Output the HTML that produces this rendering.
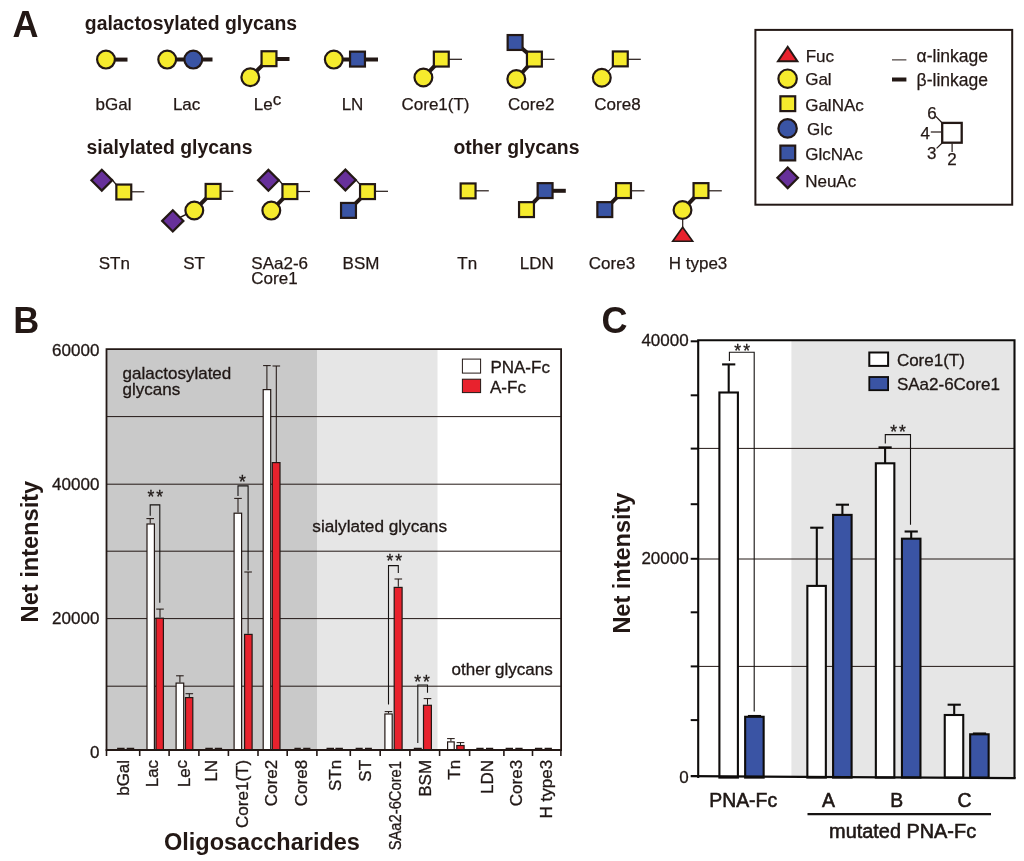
<!DOCTYPE html>
<html><head><meta charset="utf-8"><title>Figure</title>
<style>html,body{margin:0;padding:0;background:#fff}svg{display:block;opacity:0.9999;will-change:transform}text{font-family:"Liberation Sans",sans-serif;fill:#231815}</style>
</head><body>
<svg width="1024" height="861" viewBox="0 0 1024 861">
<defs><filter id="soft" x="0" y="0" width="100%" height="100%" filterUnits="userSpaceOnUse" color-interpolation-filters="sRGB"><feGaussianBlur stdDeviation="0.35"/></filter></defs>
<rect width="1024" height="861" fill="#fff"/>
<g filter="url(#soft)">
<rect width="1024" height="861" fill="#fff"/>
<text x="12.6" y="37.3" font-size="36" font-weight="bold" text-anchor="start" fill="#0a0a0a">A</text>
<text x="84.8" y="30.2" font-size="19.4" font-weight="bold" text-anchor="start" fill="#100e0d">galactosylated glycans</text>
<text x="86.5" y="154" font-size="19.4" font-weight="bold" text-anchor="start" fill="#100e0d">sialylated glycans</text>
<text x="453.4" y="154" font-size="19.4" font-weight="bold" text-anchor="start" fill="#100e0d">other glycans</text>
<line x1="110" y1="59.6" x2="127.5" y2="59.6" stroke="#231815" stroke-width="4.0" stroke-linecap="butt"/>
<circle cx="106" cy="59.6" r="8.9" fill="#f6eb2d" stroke="#231815" stroke-width="2.2"/>
<line x1="170" y1="59.6" x2="212.5" y2="59.6" stroke="#231815" stroke-width="4.0" stroke-linecap="butt"/>
<circle cx="167.2" cy="59.6" r="8.9" fill="#f6eb2d" stroke="#231815" stroke-width="2.2"/>
<circle cx="193.3" cy="59.6" r="8.9" fill="#3a54a4" stroke="#231815" stroke-width="2.2"/>
<line x1="250.3" y1="77.3" x2="269" y2="58.7" stroke="#231815" stroke-width="4.0" stroke-linecap="butt"/>
<line x1="269" y1="59" x2="289.5" y2="59" stroke="#231815" stroke-width="4.0" stroke-linecap="butt"/>
<circle cx="250.3" cy="77.3" r="8.9" fill="#f6eb2d" stroke="#231815" stroke-width="2.2"/>
<rect x="261.55" y="51.25" width="14.9" height="14.9" fill="#f6eb2d" stroke="#231815" stroke-width="2.2"/>
<line x1="336" y1="59.6" x2="378" y2="59.6" stroke="#231815" stroke-width="4.0" stroke-linecap="butt"/>
<circle cx="333.8" cy="59.6" r="8.9" fill="#f6eb2d" stroke="#231815" stroke-width="2.2"/>
<rect x="350.05" y="51.65" width="14.9" height="14.9" fill="#3a54a4" stroke="#231815" stroke-width="2.2"/>
<line x1="423.4" y1="77.5" x2="441.3" y2="59.1" stroke="#231815" stroke-width="4.0" stroke-linecap="butt"/>
<line x1="441.3" y1="59.3" x2="462" y2="59.3" stroke="#231815" stroke-width="1.2" stroke-linecap="butt"/>
<circle cx="423.4" cy="77.5" r="8.9" fill="#f6eb2d" stroke="#231815" stroke-width="2.2"/>
<rect x="433.85" y="51.65" width="14.9" height="14.9" fill="#f6eb2d" stroke="#231815" stroke-width="2.2"/>
<line x1="515.1" y1="42.5" x2="534.4" y2="59.1" stroke="#231815" stroke-width="4.0" stroke-linecap="butt"/>
<line x1="516.3" y1="79" x2="534.4" y2="59.1" stroke="#231815" stroke-width="4.0" stroke-linecap="butt"/>
<line x1="534.4" y1="59.3" x2="554.5" y2="59.3" stroke="#231815" stroke-width="1.2" stroke-linecap="butt"/>
<rect x="507.65" y="35.05" width="14.9" height="14.9" fill="#3a54a4" stroke="#231815" stroke-width="2.2"/>
<circle cx="516.3" cy="79" r="8.9" fill="#f6eb2d" stroke="#231815" stroke-width="2.2"/>
<rect x="526.95" y="51.65" width="14.9" height="14.9" fill="#f6eb2d" stroke="#231815" stroke-width="2.2"/>
<line x1="601.8" y1="77.8" x2="620.3" y2="58.9" stroke="#231815" stroke-width="1.2" stroke-linecap="butt"/>
<line x1="620.3" y1="59.3" x2="640.8" y2="59.3" stroke="#231815" stroke-width="1.2" stroke-linecap="butt"/>
<circle cx="601.8" cy="77.8" r="8.9" fill="#f6eb2d" stroke="#231815" stroke-width="2.2"/>
<rect x="612.85" y="51.45" width="14.9" height="14.9" fill="#f6eb2d" stroke="#231815" stroke-width="2.2"/>
<text x="113.5" y="109.8" font-size="17" font-weight="normal" text-anchor="middle" stroke="#231815" stroke-width="0.25">bGal</text>
<text x="186.6" y="109.8" font-size="17" font-weight="normal" text-anchor="middle" stroke="#231815" stroke-width="0.25">Lac</text>
<text x="253.8" y="109.8" font-size="17" font-weight="normal" text-anchor="start" stroke="#231815" stroke-width="0.25">Le<tspan dy="-4.5" font-size="17">c</tspan></text>
<text x="352.5" y="109.8" font-size="17" font-weight="normal" text-anchor="middle" stroke="#231815" stroke-width="0.25">LN</text>
<text x="435.5" y="109.8" font-size="17" font-weight="normal" text-anchor="middle" stroke="#231815" stroke-width="0.25">Core1(T)</text>
<text x="531.2" y="109.8" font-size="17" font-weight="normal" text-anchor="middle" stroke="#231815" stroke-width="0.25">Core2</text>
<text x="617.5" y="109.8" font-size="17" font-weight="normal" text-anchor="middle" stroke="#231815" stroke-width="0.25">Core8</text>
<line x1="124" y1="191.8" x2="144.3" y2="191.8" stroke="#231815" stroke-width="1.2" stroke-linecap="butt"/>
<line x1="111.5" y1="179" x2="117" y2="185.5" stroke="#231815" stroke-width="1.2" stroke-linecap="butt"/>
<path d="M91.4 180.2L101.8 169.8L112.2 180.2L101.8 190.6Z" fill="#67309a" stroke="#231815" stroke-width="2.2" stroke-linejoin="miter"/>
<rect x="116.35" y="184.55" width="14.9" height="14.9" fill="#f6eb2d" stroke="#231815" stroke-width="2.2"/>
<line x1="172.8" y1="220.9" x2="194.3" y2="210.5" stroke="#231815" stroke-width="1.4" stroke-linecap="butt"/>
<line x1="194.3" y1="210.5" x2="213.1" y2="191.4" stroke="#231815" stroke-width="4.0" stroke-linecap="butt"/>
<line x1="213.1" y1="191.3" x2="233.3" y2="191.3" stroke="#231815" stroke-width="1.2" stroke-linecap="butt"/>
<path d="M162.2 220.9L172.8 210.3L183.4 220.9L172.8 231.5Z" fill="#67309a" stroke="#231815" stroke-width="2.2" stroke-linejoin="miter"/>
<circle cx="194.3" cy="210.5" r="8.9" fill="#f6eb2d" stroke="#231815" stroke-width="2.2"/>
<rect x="205.65" y="183.95" width="14.9" height="14.9" fill="#f6eb2d" stroke="#231815" stroke-width="2.2"/>
<line x1="271.3" y1="210.6" x2="289.9" y2="191.6" stroke="#231815" stroke-width="4.0" stroke-linecap="butt"/>
<line x1="289.9" y1="191.5" x2="310" y2="191.5" stroke="#231815" stroke-width="1.2" stroke-linecap="butt"/>
<line x1="278" y1="179" x2="283.5" y2="185.5" stroke="#231815" stroke-width="1.2" stroke-linecap="butt"/>
<path d="M258 180.3L268.4 169.9L278.8 180.3L268.4 190.7Z" fill="#67309a" stroke="#231815" stroke-width="2.2" stroke-linejoin="miter"/>
<circle cx="271.3" cy="210.6" r="8.9" fill="#f6eb2d" stroke="#231815" stroke-width="2.2"/>
<rect x="282.45" y="184.15" width="14.9" height="14.9" fill="#f6eb2d" stroke="#231815" stroke-width="2.2"/>
<line x1="348.5" y1="210.4" x2="367.5" y2="191.6" stroke="#231815" stroke-width="4.0" stroke-linecap="butt"/>
<line x1="367.5" y1="191.3" x2="388" y2="191.3" stroke="#231815" stroke-width="1.2" stroke-linecap="butt"/>
<line x1="355" y1="178.8" x2="361" y2="185.5" stroke="#231815" stroke-width="1.2" stroke-linecap="butt"/>
<path d="M335 180L345.4 169.6L355.8 180L345.4 190.4Z" fill="#67309a" stroke="#231815" stroke-width="2.2" stroke-linejoin="miter"/>
<rect x="341.05" y="202.95" width="14.9" height="14.9" fill="#3a54a4" stroke="#231815" stroke-width="2.2"/>
<rect x="360.05" y="184.15" width="14.9" height="14.9" fill="#f6eb2d" stroke="#231815" stroke-width="2.2"/>
<line x1="468.1" y1="190.8" x2="488.8" y2="190.8" stroke="#231815" stroke-width="1.2" stroke-linecap="butt"/>
<rect x="460.65" y="183.45" width="14.9" height="14.9" fill="#f6eb2d" stroke="#231815" stroke-width="2.2"/>
<line x1="526.5" y1="209.6" x2="545.1" y2="190.6" stroke="#231815" stroke-width="4.0" stroke-linecap="butt"/>
<line x1="545.1" y1="190.8" x2="565.8" y2="190.8" stroke="#231815" stroke-width="4.0" stroke-linecap="butt"/>
<rect x="519.05" y="202.15" width="14.9" height="14.9" fill="#f6eb2d" stroke="#231815" stroke-width="2.2"/>
<rect x="537.65" y="183.15" width="14.9" height="14.9" fill="#3a54a4" stroke="#231815" stroke-width="2.2"/>
<line x1="604.8" y1="209.6" x2="623.5" y2="190.6" stroke="#231815" stroke-width="4.0" stroke-linecap="butt"/>
<line x1="623.5" y1="190.8" x2="644.5" y2="190.8" stroke="#231815" stroke-width="1.2" stroke-linecap="butt"/>
<rect x="597.35" y="202.15" width="14.9" height="14.9" fill="#3a54a4" stroke="#231815" stroke-width="2.2"/>
<rect x="616.05" y="183.15" width="14.9" height="14.9" fill="#f6eb2d" stroke="#231815" stroke-width="2.2"/>
<line x1="682.5" y1="210" x2="701" y2="190.6" stroke="#231815" stroke-width="4.0" stroke-linecap="butt"/>
<line x1="701" y1="190.8" x2="721.8" y2="190.8" stroke="#231815" stroke-width="1.2" stroke-linecap="butt"/>
<line x1="682.7" y1="218" x2="682.7" y2="228" stroke="#231815" stroke-width="1.2" stroke-linecap="butt"/>
<circle cx="682.5" cy="210" r="8.9" fill="#f6eb2d" stroke="#231815" stroke-width="2.2"/>
<rect x="693.55" y="183.15" width="14.9" height="14.9" fill="#f6eb2d" stroke="#231815" stroke-width="2.2"/>
<path d="M682.7 227.2L692.7 241.3L672.7 241.3Z" fill="#e8222d" stroke="#231815" stroke-width="1.6" stroke-linejoin="miter"/>
<text x="114.3" y="268.5" font-size="17" font-weight="normal" text-anchor="middle" stroke="#231815" stroke-width="0.25">STn</text>
<text x="194" y="268.5" font-size="17" font-weight="normal" text-anchor="middle" stroke="#231815" stroke-width="0.25">ST</text>
<text x="251.3" y="268.5" font-size="17" font-weight="normal" text-anchor="start" stroke="#231815" stroke-width="0.25">SAa2-6</text>
<text x="251.3" y="284.2" font-size="17" font-weight="normal" text-anchor="start" stroke="#231815" stroke-width="0.25">Core1</text>
<text x="361" y="268.5" font-size="17" font-weight="normal" text-anchor="middle" stroke="#231815" stroke-width="0.25">BSM</text>
<text x="467.2" y="268.5" font-size="17" font-weight="normal" text-anchor="middle" stroke="#231815" stroke-width="0.25">Tn</text>
<text x="536.8" y="268.5" font-size="17" font-weight="normal" text-anchor="middle" stroke="#231815" stroke-width="0.25">LDN</text>
<text x="612" y="268.5" font-size="17" font-weight="normal" text-anchor="middle" stroke="#231815" stroke-width="0.25">Core3</text>
<text x="698" y="268.5" font-size="17" font-weight="normal" text-anchor="middle" stroke="#231815" stroke-width="0.25">H type3</text>
<rect x="755.4" y="29.9" width="256.8" height="174.8" fill="#fff" stroke="#231815" stroke-width="2"/>
<path d="M787.7 46.8L797.4 61.3L778 61.3Z" fill="#e8222d" stroke="#231815" stroke-width="2.0" stroke-linejoin="miter"/>
<circle cx="787.6" cy="78.7" r="9.2" fill="#f6eb2d" stroke="#231815" stroke-width="2.2"/>
<rect x="780.4" y="96.3" width="14.8" height="14.8" fill="#f6eb2d" stroke="#231815" stroke-width="2.2"/>
<circle cx="787.6" cy="128.4" r="9.2" fill="#3a54a4" stroke="#231815" stroke-width="2.2"/>
<rect x="780.4" y="145.6" width="14.8" height="14.8" fill="#3a54a4" stroke="#231815" stroke-width="2.2"/>
<path d="M777.4 177.8L787.7 167.5L798 177.8L787.7 188.1Z" fill="#67309a" stroke="#231815" stroke-width="2.2" stroke-linejoin="miter"/>
<text x="805.7" y="62.1" font-size="17" font-weight="normal" text-anchor="start" stroke="#231815" stroke-width="0.25">Fuc</text>
<text x="805.2" y="84.9" font-size="17" font-weight="normal" text-anchor="start" stroke="#231815" stroke-width="0.25">Gal</text>
<text x="805.2" y="110.7" font-size="17" font-weight="normal" text-anchor="start" stroke="#231815" stroke-width="0.25">GalNAc</text>
<text x="807" y="135.3" font-size="17" font-weight="normal" text-anchor="start" stroke="#231815" stroke-width="0.25">Glc</text>
<text x="805.2" y="159.7" font-size="17" font-weight="normal" text-anchor="start" stroke="#231815" stroke-width="0.25">GlcNAc</text>
<text x="805.2" y="186.6" font-size="17" font-weight="normal" text-anchor="start" stroke="#231815" stroke-width="0.25">NeuAc</text>
<line x1="892" y1="59.9" x2="906.4" y2="59.9" stroke="#231815" stroke-width="1" stroke-linecap="butt"/>
<line x1="892" y1="79.5" x2="906.4" y2="79.5" stroke="#231815" stroke-width="4" stroke-linecap="butt"/>
<text x="916.6" y="62.1" font-size="17.5" font-weight="normal" text-anchor="start" stroke="#231815" stroke-width="0.25">α-linkage</text>
<text x="916.6" y="86.3" font-size="17.5" font-weight="normal" text-anchor="start" stroke="#231815" stroke-width="0.25">β-linkage</text>
<rect x="942.2" y="122.9" width="19.5" height="19.8" fill="#fff" stroke="#231815" stroke-width="2.3"/>
<line x1="935.6" y1="116.2" x2="942.2" y2="123" stroke="#231815" stroke-width="1.2" stroke-linecap="butt"/>
<line x1="930.8" y1="132" x2="941" y2="132" stroke="#231815" stroke-width="1.2" stroke-linecap="butt"/>
<line x1="936.6" y1="148.4" x2="942.4" y2="142.8" stroke="#231815" stroke-width="1.2" stroke-linecap="butt"/>
<line x1="952.1" y1="143.6" x2="952.1" y2="152" stroke="#231815" stroke-width="1.2" stroke-linecap="butt"/>
<text x="927.3" y="118.8" font-size="17" font-weight="normal" text-anchor="start" stroke="#231815" stroke-width="0.25">6</text>
<text x="920.6" y="139" font-size="17" font-weight="normal" text-anchor="start" stroke="#231815" stroke-width="0.25">4</text>
<text x="927" y="159.2" font-size="17" font-weight="normal" text-anchor="start" stroke="#231815" stroke-width="0.25">3</text>
<text x="947.2" y="164.7" font-size="17" font-weight="normal" text-anchor="start" stroke="#231815" stroke-width="0.25">2</text>
<text x="13.3" y="332.5" font-size="36" font-weight="bold" text-anchor="start" fill="#0a0a0a">B</text>
<rect x="106.5" y="349.2" width="210.5" height="400.4" fill="#c9c9c9"/>
<rect x="317" y="349.2" width="120.5" height="400.4" fill="#e6e6e6"/>
<line x1="106.5" y1="416.6" x2="561.1" y2="416.6" stroke="#231815" stroke-width="1.0" stroke-linecap="butt"/>
<line x1="106.5" y1="484.2" x2="561.1" y2="484.2" stroke="#231815" stroke-width="1.0" stroke-linecap="butt"/>
<line x1="106.5" y1="551.2" x2="561.1" y2="551.2" stroke="#231815" stroke-width="1.0" stroke-linecap="butt"/>
<line x1="106.5" y1="618.6" x2="561.1" y2="618.6" stroke="#231815" stroke-width="1.0" stroke-linecap="butt"/>
<line x1="106.5" y1="686.2" x2="561.1" y2="686.2" stroke="#231815" stroke-width="1.0" stroke-linecap="butt"/>
<line x1="117.1" y1="748.5" x2="124.6" y2="748.5" stroke="#231815" stroke-width="1.5" stroke-linecap="butt"/>
<line x1="126.7" y1="748.5" x2="134.2" y2="748.5" stroke="#231815" stroke-width="1.5" stroke-linecap="butt"/>
<line x1="205.3" y1="748.5" x2="212.8" y2="748.5" stroke="#231815" stroke-width="1.5" stroke-linecap="butt"/>
<line x1="214.8" y1="748.5" x2="222.1" y2="748.5" stroke="#231815" stroke-width="1.5" stroke-linecap="butt"/>
<line x1="294.4" y1="748.5" x2="300.8" y2="748.5" stroke="#231815" stroke-width="1.5" stroke-linecap="butt"/>
<line x1="303.2" y1="748.5" x2="310.4" y2="748.5" stroke="#231815" stroke-width="1.5" stroke-linecap="butt"/>
<line x1="326.5" y1="748.5" x2="334" y2="748.5" stroke="#231815" stroke-width="1.5" stroke-linecap="butt"/>
<line x1="335.4" y1="748.5" x2="342.9" y2="748.5" stroke="#231815" stroke-width="1.5" stroke-linecap="butt"/>
<line x1="355.6" y1="748.5" x2="362.7" y2="748.5" stroke="#231815" stroke-width="1.5" stroke-linecap="butt"/>
<line x1="365" y1="748.5" x2="371.9" y2="748.5" stroke="#231815" stroke-width="1.5" stroke-linecap="butt"/>
<line x1="413.8" y1="748.5" x2="421.8" y2="748.5" stroke="#231815" stroke-width="1.5" stroke-linecap="butt"/>
<line x1="476.3" y1="748.5" x2="483.6" y2="748.5" stroke="#231815" stroke-width="1.5" stroke-linecap="butt"/>
<line x1="486" y1="748.5" x2="493.2" y2="748.5" stroke="#231815" stroke-width="1.5" stroke-linecap="butt"/>
<line x1="505.6" y1="748.5" x2="513" y2="748.5" stroke="#231815" stroke-width="1.5" stroke-linecap="butt"/>
<line x1="515.3" y1="748.5" x2="522.6" y2="748.5" stroke="#231815" stroke-width="1.5" stroke-linecap="butt"/>
<line x1="534.9" y1="748.5" x2="542.3" y2="748.5" stroke="#231815" stroke-width="1.5" stroke-linecap="butt"/>
<line x1="544.6" y1="748.5" x2="551.9" y2="748.5" stroke="#231815" stroke-width="1.5" stroke-linecap="butt"/>
<line x1="150.2" y1="523.4" x2="150.2" y2="518.6" stroke="#231815" stroke-width="1.05" stroke-linecap="butt"/>
<line x1="146.4" y1="518.6" x2="154" y2="518.6" stroke="#231815" stroke-width="1.05" stroke-linecap="butt"/>
<rect x="147" y="524" width="7.4" height="225.6" fill="#fff" stroke="#231815" stroke-width="1.2"/>
<line x1="160" y1="617.6" x2="160" y2="609.1" stroke="#231815" stroke-width="1.05" stroke-linecap="butt"/>
<line x1="156.2" y1="609.1" x2="163.8" y2="609.1" stroke="#231815" stroke-width="1.05" stroke-linecap="butt"/>
<rect x="156" y="618.2" width="7.4" height="131.4" fill="#e8222d" stroke="#231815" stroke-width="1.2"/>
<line x1="179.9" y1="682.5" x2="179.9" y2="675.8" stroke="#231815" stroke-width="1.05" stroke-linecap="butt"/>
<line x1="176.1" y1="675.8" x2="183.7" y2="675.8" stroke="#231815" stroke-width="1.05" stroke-linecap="butt"/>
<rect x="176.1" y="683.1" width="7.6" height="66.5" fill="#fff" stroke="#231815" stroke-width="1.2"/>
<line x1="189.3" y1="697" x2="189.3" y2="693.7" stroke="#231815" stroke-width="1.05" stroke-linecap="butt"/>
<line x1="185.5" y1="693.7" x2="193.1" y2="693.7" stroke="#231815" stroke-width="1.05" stroke-linecap="butt"/>
<rect x="185.5" y="697.6" width="7.3" height="52" fill="#e8222d" stroke="#231815" stroke-width="1.2"/>
<line x1="238" y1="512.6" x2="238" y2="498.4" stroke="#231815" stroke-width="1.05" stroke-linecap="butt"/>
<line x1="234.2" y1="498.4" x2="241.8" y2="498.4" stroke="#231815" stroke-width="1.05" stroke-linecap="butt"/>
<rect x="234.1" y="513.2" width="7.5" height="236.4" fill="#fff" stroke="#231815" stroke-width="1.2"/>
<line x1="248.1" y1="633.8" x2="248.1" y2="572" stroke="#231815" stroke-width="1.05" stroke-linecap="butt"/>
<line x1="244.3" y1="572" x2="251.9" y2="572" stroke="#231815" stroke-width="1.05" stroke-linecap="butt"/>
<rect x="244.6" y="634.4" width="7.5" height="115.2" fill="#e8222d" stroke="#231815" stroke-width="1.2"/>
<line x1="266.9" y1="389" x2="266.9" y2="365.6" stroke="#231815" stroke-width="1.05" stroke-linecap="butt"/>
<line x1="263.1" y1="365.6" x2="270.7" y2="365.6" stroke="#231815" stroke-width="1.05" stroke-linecap="butt"/>
<rect x="263.2" y="389.6" width="7.5" height="360" fill="#fff" stroke="#231815" stroke-width="1.2"/>
<line x1="276.3" y1="462" x2="276.3" y2="366" stroke="#231815" stroke-width="1.05" stroke-linecap="butt"/>
<line x1="272.5" y1="366" x2="280.1" y2="366" stroke="#231815" stroke-width="1.05" stroke-linecap="butt"/>
<rect x="272.3" y="462.6" width="7.7" height="287" fill="#e8222d" stroke="#231815" stroke-width="1.2"/>
<line x1="388.5" y1="713.4" x2="388.5" y2="711.6" stroke="#231815" stroke-width="1.05" stroke-linecap="butt"/>
<line x1="384.7" y1="711.6" x2="392.3" y2="711.6" stroke="#231815" stroke-width="1.05" stroke-linecap="butt"/>
<rect x="384.9" y="714" width="7.3" height="35.6" fill="#fff" stroke="#231815" stroke-width="1.2"/>
<line x1="398.3" y1="586.8" x2="398.3" y2="579" stroke="#231815" stroke-width="1.05" stroke-linecap="butt"/>
<line x1="394.5" y1="579" x2="402.1" y2="579" stroke="#231815" stroke-width="1.05" stroke-linecap="butt"/>
<rect x="394.2" y="587.4" width="7.9" height="162.2" fill="#e8222d" stroke="#231815" stroke-width="1.2"/>
<line x1="427.5" y1="704.7" x2="427.5" y2="698.6" stroke="#231815" stroke-width="1.05" stroke-linecap="butt"/>
<line x1="423.7" y1="698.6" x2="431.3" y2="698.6" stroke="#231815" stroke-width="1.05" stroke-linecap="butt"/>
<rect x="423.5" y="705.3" width="7.9" height="44.3" fill="#e8222d" stroke="#231815" stroke-width="1.2"/>
<line x1="450.9" y1="741.3" x2="450.9" y2="738.6" stroke="#231815" stroke-width="1.05" stroke-linecap="butt"/>
<line x1="447.1" y1="738.6" x2="454.7" y2="738.6" stroke="#231815" stroke-width="1.05" stroke-linecap="butt"/>
<rect x="447.6" y="741.9" width="6.6" height="7.7" fill="#fff" stroke="#231815" stroke-width="1.2"/>
<line x1="460.5" y1="744.9" x2="460.5" y2="742.6" stroke="#231815" stroke-width="1.05" stroke-linecap="butt"/>
<line x1="456.7" y1="742.6" x2="464.3" y2="742.6" stroke="#231815" stroke-width="1.05" stroke-linecap="butt"/>
<rect x="456.8" y="745.5" width="7.3" height="4.1" fill="#e8222d" stroke="#231815" stroke-width="1.2"/>
<path d="M150.2 515.8V504.9H159.8V602.8" fill="none" stroke="#151211" stroke-width="1.1"/>
<path d="M238 496V485.9H248.1V570.5" fill="none" stroke="#151211" stroke-width="1.1"/>
<path d="M388.5 704.5V565.6H398.3V573" fill="none" stroke="#151211" stroke-width="1.1"/>
<path d="M417.8 743V685H427.5V692.8" fill="none" stroke="#151211" stroke-width="1.1"/>
<text x="147.44" y="502.77" font-size="17.5" letter-spacing="2.1" fill="#111" stroke="#111" stroke-width="0.3">**</text>
<text x="238.9" y="487.87" font-size="17.5" letter-spacing="2.1" fill="#111" stroke="#111" stroke-width="0.3">*</text>
<text x="386.39" y="566.82" font-size="17.5" letter-spacing="2.1" fill="#111" stroke="#111" stroke-width="0.3">**</text>
<text x="414.14" y="688.32" font-size="17.5" letter-spacing="2.1" fill="#111" stroke="#111" stroke-width="0.3">**</text>
<path d="M106.5 749.6V349.2H561.1V749.6" fill="none" stroke="#231815" stroke-width="1.8"/>
<line x1="105.6" y1="750" x2="562" y2="750" stroke="#231815" stroke-width="2.2" stroke-linecap="butt"/>
<line x1="106.5" y1="749.6" x2="106.5" y2="756" stroke="#231815" stroke-width="1.6" stroke-linecap="butt"/>
<line x1="139.7" y1="749.6" x2="139.7" y2="756" stroke="#231815" stroke-width="1.6" stroke-linecap="butt"/>
<line x1="169.1" y1="749.6" x2="169.1" y2="756" stroke="#231815" stroke-width="1.6" stroke-linecap="butt"/>
<line x1="198.9" y1="749.6" x2="198.9" y2="756" stroke="#231815" stroke-width="1.6" stroke-linecap="butt"/>
<line x1="228.4" y1="749.6" x2="228.4" y2="756" stroke="#231815" stroke-width="1.6" stroke-linecap="butt"/>
<line x1="258" y1="749.6" x2="258" y2="756" stroke="#231815" stroke-width="1.6" stroke-linecap="butt"/>
<line x1="287.2" y1="749.6" x2="287.2" y2="756" stroke="#231815" stroke-width="1.6" stroke-linecap="butt"/>
<line x1="316.9" y1="749.6" x2="316.9" y2="756" stroke="#231815" stroke-width="1.6" stroke-linecap="butt"/>
<line x1="350.3" y1="749.6" x2="350.3" y2="756" stroke="#231815" stroke-width="1.6" stroke-linecap="butt"/>
<line x1="380.2" y1="749.6" x2="380.2" y2="756" stroke="#231815" stroke-width="1.6" stroke-linecap="butt"/>
<line x1="409.9" y1="749.6" x2="409.9" y2="756" stroke="#231815" stroke-width="1.6" stroke-linecap="butt"/>
<line x1="439.6" y1="749.6" x2="439.6" y2="756" stroke="#231815" stroke-width="1.6" stroke-linecap="butt"/>
<line x1="469.6" y1="749.6" x2="469.6" y2="756" stroke="#231815" stroke-width="1.6" stroke-linecap="butt"/>
<line x1="503.9" y1="749.6" x2="503.9" y2="756" stroke="#231815" stroke-width="1.6" stroke-linecap="butt"/>
<line x1="532.5" y1="749.6" x2="532.5" y2="756" stroke="#231815" stroke-width="1.6" stroke-linecap="butt"/>
<line x1="560.9" y1="749.6" x2="560.9" y2="756" stroke="#231815" stroke-width="1.6" stroke-linecap="butt"/>
<text x="99.4" y="356" font-size="17.0" font-weight="normal" text-anchor="end" fill="#161312" stroke="#161312" stroke-width="0.3">60000</text>
<text x="99.4" y="490.1" font-size="17.0" font-weight="normal" text-anchor="end" fill="#161312" stroke="#161312" stroke-width="0.3">40000</text>
<text x="99.4" y="623.6" font-size="17.0" font-weight="normal" text-anchor="end" fill="#161312" stroke="#161312" stroke-width="0.3">20000</text>
<text x="99.4" y="757.6" font-size="17.0" font-weight="normal" text-anchor="end" fill="#161312" stroke="#161312" stroke-width="0.3">0</text>
<text x="122.6" y="378.7" font-size="17" font-weight="normal" text-anchor="start" fill="#161312" stroke="#161312" stroke-width="0.3">galactosylated</text>
<text x="122.6" y="394.8" font-size="17" font-weight="normal" text-anchor="start" fill="#161312" stroke="#161312" stroke-width="0.3">glycans</text>
<text x="312.3" y="532.1" font-size="17.2" font-weight="normal" text-anchor="start" fill="#161312" stroke="#161312" stroke-width="0.3">sialylated glycans</text>
<text x="451.6" y="674.8" font-size="17" font-weight="normal" text-anchor="start" fill="#161312" stroke="#161312" stroke-width="0.3">other glycans</text>
<rect x="462.4" y="359.1" width="18.2" height="14" fill="#fff" stroke="#231815" stroke-width="1"/>
<rect x="462.4" y="379.2" width="18.2" height="13.4" fill="#e8222d" stroke="#231815" stroke-width="1"/>
<text x="490.4" y="372.8" font-size="17" font-weight="normal" text-anchor="start" fill="#161312" stroke="#161312" stroke-width="0.3">PNA-Fc</text>
<text x="490" y="392.5" font-size="17" font-weight="normal" text-anchor="start" fill="#161312" stroke="#161312" stroke-width="0.3">A-Fc</text>
<text transform="translate(129.3 759.9) rotate(-90)" font-size="17" font-weight="normal" text-anchor="end" fill="#161312" stroke="#161312" stroke-width="0.3">bGal</text>
<text transform="translate(158.1 759.9) rotate(-90)" font-size="17" font-weight="normal" text-anchor="end" fill="#161312" stroke="#161312" stroke-width="0.3">Lac</text>
<text transform="translate(217.2 759.9) rotate(-90)" font-size="17" font-weight="normal" text-anchor="end" fill="#161312" stroke="#161312" stroke-width="0.3">LN</text>
<text transform="translate(247.6 759.9) rotate(-90)" font-size="17" font-weight="normal" text-anchor="end" fill="#161312" stroke="#161312" stroke-width="0.3">Core1(T)</text>
<text transform="translate(276.9 759.9) rotate(-90)" font-size="17" font-weight="normal" text-anchor="end" fill="#161312" stroke="#161312" stroke-width="0.3">Core2</text>
<text transform="translate(307.4 759.9) rotate(-90)" font-size="17" font-weight="normal" text-anchor="end" fill="#161312" stroke="#161312" stroke-width="0.3">Core8</text>
<text transform="translate(340.8 759.9) rotate(-90)" font-size="17" font-weight="normal" text-anchor="end" fill="#161312" stroke="#161312" stroke-width="0.3">STn</text>
<text transform="translate(370.8 759.9) rotate(-90)" font-size="17" font-weight="normal" text-anchor="end" fill="#161312" stroke="#161312" stroke-width="0.3">ST</text>
<text transform="translate(431 759.9) rotate(-90)" font-size="17" font-weight="normal" text-anchor="end" fill="#161312" stroke="#161312" stroke-width="0.3">BSM</text>
<text transform="translate(460.4 759.9) rotate(-90)" font-size="17" font-weight="normal" text-anchor="end" fill="#161312" stroke="#161312" stroke-width="0.3">Tn</text>
<text transform="translate(492.7 759.9) rotate(-90)" font-size="17" font-weight="normal" text-anchor="end" fill="#161312" stroke="#161312" stroke-width="0.3">LDN</text>
<text transform="translate(522.4 759.9) rotate(-90)" font-size="17" font-weight="normal" text-anchor="end" fill="#161312" stroke="#161312" stroke-width="0.3">Core3</text>
<text transform="translate(552.4 759.9) rotate(-90)" font-size="17" font-weight="normal" text-anchor="end" fill="#161312" stroke="#161312" stroke-width="0.3">H type3</text>
<text transform="translate(189.5 759.9) rotate(-90)" font-size="17" font-weight="normal" text-anchor="end" fill="#161312" stroke="#161312" stroke-width="0.3">Le<tspan dy="-2.5">c</tspan></text>
<text transform="translate(401.3 761.0) rotate(-90) scale(0.868 1)" font-size="17" text-anchor="end" fill="#161312" stroke="#161312" stroke-width="0.3">SAa2-6Core1</text>
<text x="164" y="849.6" font-size="23.5" font-weight="bold" text-anchor="start" fill="#231815">Oligosaccharides</text>
<text transform="translate(38 622.4) rotate(-90)" font-size="23.6" font-weight="bold" text-anchor="start" fill="#231815">Net intensity</text>
<text x="601.4" y="332.6" font-size="36" font-weight="bold" text-anchor="start" fill="#0a0a0a">C</text>
<rect x="791.4" y="340.2" width="223.1" height="436.8" fill="#e6e6e6"/>
<line x1="698.2" y1="448.4" x2="1014.5" y2="448.4" stroke="#231815" stroke-width="1.0" stroke-linecap="butt"/>
<line x1="698.2" y1="559" x2="1014.5" y2="559" stroke="#231815" stroke-width="1.0" stroke-linecap="butt"/>
<line x1="698.2" y1="666.4" x2="1014.5" y2="666.4" stroke="#231815" stroke-width="1.0" stroke-linecap="butt"/>
<line x1="728.7" y1="392.5" x2="728.7" y2="364.4" stroke="#0e0c0b" stroke-width="2.1" stroke-linecap="butt"/>
<line x1="722.1" y1="364.4" x2="735.3" y2="364.4" stroke="#0e0c0b" stroke-width="2.1" stroke-linecap="butt"/>
<rect x="719.4" y="392.5" width="18.5" height="385.1" fill="#fff" stroke="#0e0c0b" stroke-width="2.1"/>
<line x1="754.5" y1="716.8" x2="754.5" y2="716" stroke="#0e0c0b" stroke-width="2.1" stroke-linecap="butt"/>
<line x1="747.9" y1="716" x2="761.1" y2="716" stroke="#0e0c0b" stroke-width="2.1" stroke-linecap="butt"/>
<rect x="745.15" y="716.8" width="18.5" height="60.8" fill="#3a54a4" stroke="#0e0c0b" stroke-width="2.1"/>
<line x1="816.8" y1="585.9" x2="816.8" y2="527.7" stroke="#0e0c0b" stroke-width="2.1" stroke-linecap="butt"/>
<line x1="810.2" y1="527.7" x2="823.4" y2="527.7" stroke="#0e0c0b" stroke-width="2.1" stroke-linecap="butt"/>
<rect x="807.35" y="585.9" width="18.5" height="191.7" fill="#fff" stroke="#0e0c0b" stroke-width="2.1"/>
<line x1="842.4" y1="514.9" x2="842.4" y2="504.7" stroke="#0e0c0b" stroke-width="2.1" stroke-linecap="butt"/>
<line x1="835.8" y1="504.7" x2="849" y2="504.7" stroke="#0e0c0b" stroke-width="2.1" stroke-linecap="butt"/>
<rect x="833.1" y="514.9" width="18.5" height="262.7" fill="#3a54a4" stroke="#0e0c0b" stroke-width="2.1"/>
<line x1="885.1" y1="463.3" x2="885.1" y2="447.4" stroke="#0e0c0b" stroke-width="2.1" stroke-linecap="butt"/>
<line x1="878.5" y1="447.4" x2="891.7" y2="447.4" stroke="#0e0c0b" stroke-width="2.1" stroke-linecap="butt"/>
<rect x="875.85" y="463.3" width="18.5" height="314.3" fill="#fff" stroke="#0e0c0b" stroke-width="2.1"/>
<line x1="911.2" y1="538.7" x2="911.2" y2="531.5" stroke="#0e0c0b" stroke-width="2.1" stroke-linecap="butt"/>
<line x1="904.6" y1="531.5" x2="917.8" y2="531.5" stroke="#0e0c0b" stroke-width="2.1" stroke-linecap="butt"/>
<rect x="901.95" y="538.7" width="18.5" height="238.9" fill="#3a54a4" stroke="#0e0c0b" stroke-width="2.1"/>
<line x1="954.2" y1="715" x2="954.2" y2="704.7" stroke="#0e0c0b" stroke-width="2.1" stroke-linecap="butt"/>
<line x1="947.6" y1="704.7" x2="960.8" y2="704.7" stroke="#0e0c0b" stroke-width="2.1" stroke-linecap="butt"/>
<rect x="944.75" y="715" width="18.5" height="62.6" fill="#fff" stroke="#0e0c0b" stroke-width="2.1"/>
<line x1="979.5" y1="734.3" x2="979.5" y2="733.5" stroke="#0e0c0b" stroke-width="2.1" stroke-linecap="butt"/>
<line x1="972.9" y1="733.5" x2="986.1" y2="733.5" stroke="#0e0c0b" stroke-width="2.1" stroke-linecap="butt"/>
<rect x="970.15" y="734.3" width="18.5" height="43.3" fill="#3a54a4" stroke="#0e0c0b" stroke-width="2.1"/>
<path d="M729.4 361V352.3H754.2V711.6" fill="none" stroke="#151211" stroke-width="1.1"/>
<path d="M885.3 443.5V434.6H910.5V524.8" fill="none" stroke="#151211" stroke-width="1.1"/>
<text x="734.29" y="356.87" font-size="17.5" letter-spacing="2.1" fill="#111" stroke="#111" stroke-width="0.3">**</text>
<text x="890.14" y="438.17" font-size="17.5" letter-spacing="2.1" fill="#111" stroke="#111" stroke-width="0.3">**</text>
<path d="M698.2 778.0V340.2H1014.5V778.5" fill="none" stroke="#0e0c0b" stroke-width="2.1"/>
<line x1="690.7" y1="776.1" x2="1015.6" y2="778.2" stroke="#0e0c0b" stroke-width="2.2" stroke-linecap="butt"/>
<line x1="690.7" y1="341.3" x2="698.2" y2="341.3" stroke="#0e0c0b" stroke-width="2.0" stroke-linecap="butt"/>
<line x1="690.7" y1="395.3" x2="698.2" y2="395.3" stroke="#0e0c0b" stroke-width="2.0" stroke-linecap="butt"/>
<line x1="690.7" y1="448.6" x2="698.2" y2="448.6" stroke="#0e0c0b" stroke-width="2.0" stroke-linecap="butt"/>
<line x1="690.7" y1="504.2" x2="698.2" y2="504.2" stroke="#0e0c0b" stroke-width="2.0" stroke-linecap="butt"/>
<line x1="690.7" y1="558.8" x2="698.2" y2="558.8" stroke="#0e0c0b" stroke-width="2.0" stroke-linecap="butt"/>
<line x1="690.7" y1="612.3" x2="698.2" y2="612.3" stroke="#0e0c0b" stroke-width="2.0" stroke-linecap="butt"/>
<line x1="690.7" y1="666.4" x2="698.2" y2="666.4" stroke="#0e0c0b" stroke-width="2.0" stroke-linecap="butt"/>
<line x1="690.7" y1="720.1" x2="698.2" y2="720.1" stroke="#0e0c0b" stroke-width="2.0" stroke-linecap="butt"/>
<text x="688.7" y="346" font-size="17.0" font-weight="normal" text-anchor="end" fill="#161312" stroke="#161312" stroke-width="0.3">40000</text>
<text x="688.7" y="564" font-size="17.0" font-weight="normal" text-anchor="end" fill="#161312" stroke="#161312" stroke-width="0.3">20000</text>
<text x="688.7" y="783.2" font-size="17.0" font-weight="normal" text-anchor="end" fill="#161312" stroke="#161312" stroke-width="0.3">0</text>
<rect x="869.3" y="352.5" width="18.8" height="13.4" fill="#fff" stroke="#0e0c0b" stroke-width="2"/>
<rect x="869.3" y="377.0" width="18.8" height="13.2" fill="#3a54a4" stroke="#0e0c0b" stroke-width="1.8"/>
<text x="896.9" y="366.3" font-size="17" font-weight="normal" text-anchor="start" fill="#161312" stroke="#161312" stroke-width="0.3">Core1(T)</text>
<text x="896.9" y="390" font-size="17" font-weight="normal" text-anchor="start" fill="#161312" stroke="#161312" stroke-width="0.3">SAa2-6Core1</text>
<text x="743.2" y="806.6" font-size="19.4" font-weight="normal" text-anchor="middle" fill="#161312" stroke="#161312" stroke-width="0.55">PNA-Fc</text>
<text x="828.4" y="806.6" font-size="19.4" font-weight="normal" text-anchor="middle" fill="#161312" stroke="#161312" stroke-width="0.55">A</text>
<text x="896.6" y="806.6" font-size="19.4" font-weight="normal" text-anchor="middle" fill="#161312" stroke="#161312" stroke-width="0.55">B</text>
<text x="964.5" y="806.6" font-size="19.4" font-weight="normal" text-anchor="middle" fill="#161312" stroke="#161312" stroke-width="0.55">C</text>
<line x1="807.5" y1="814.1" x2="991" y2="814.1" stroke="#161312" stroke-width="2.1" stroke-linecap="butt"/>
<text x="902.6" y="837.5" font-size="19.9" font-weight="normal" text-anchor="middle" fill="#161312" stroke="#161312" stroke-width="0.55">mutated PNA-Fc</text>
<text transform="translate(630 633.6) rotate(-90)" font-size="23.5" font-weight="bold" text-anchor="start" fill="#231815">Net intensity</text>
</g></svg></body></html>
